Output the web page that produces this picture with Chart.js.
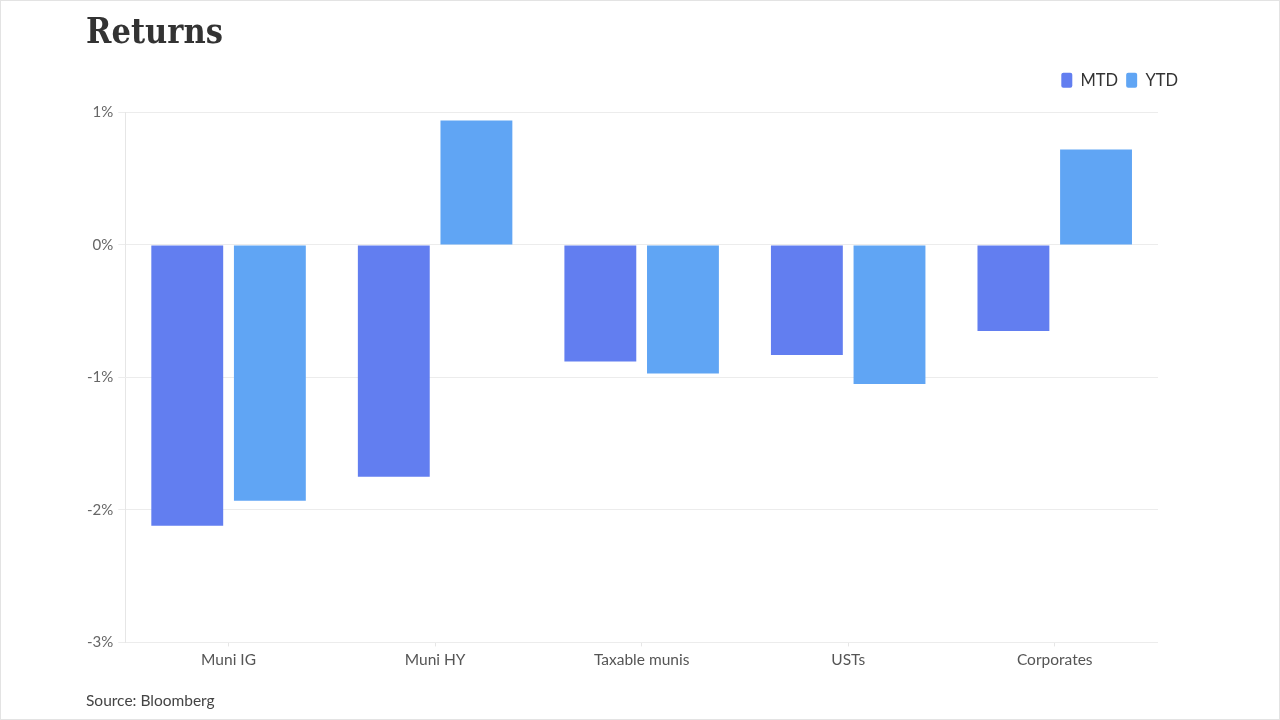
<!DOCTYPE html>
<html>
<head>
<meta charset="utf-8">
<script src="https://cdn.jsdelivr.net/npm/chart.js@4"></script>
<style>
  html, body { margin: 0; padding: 0; background: #fff; }
  #frame { position: relative; width: 1278px; height: 718px; border: 1px solid #e3e3e3; overflow: hidden; }
  #title { position: absolute; left: 85px; top: 11px; font-family: "DejaVu Serif", serif; font-weight: bold; font-size: 36px; line-height: 36px; color: #333; transform: scaleX(0.85); transform-origin: left top; white-space: nowrap; }
  #source { position: absolute; left: 85px; top: 690px; font-family: Lato, sans-serif; font-size: 15.5px; color: #444; }
  #wrap { position: absolute; left: 0; top: 0; width: 1278px; height: 718px; }
</style>
</head>
<body>
<div id="frame">
  <div id="wrap"><canvas id="c"></canvas></div>
  <div id="title">Returns</div>
  <div id="source">Source: Bloomberg</div>
</div>
<script>
const categories = ["Muni IG", "Muni HY", "Taxable munis", "USTs", "Corporates"];
const mtdValues = [-2.12, -1.75, -0.88, -0.83, -0.65];
const ytdValues = [-1.93, 0.94, -0.97, -1.05, 0.72];
const seriesNames = ["MTD", "YTD"];
const yTicks = [-3, -2, -1, 0, 1];

const legendShift = {
  id: 'legendShift',
  afterLayout(chart) {
    const lg = chart.legend;
    if (!lg) return;
    lg.left += 28; lg.right += 28;
    lg.top -= 14; lg.bottom -= 14;
  }
};

const ctx = document.getElementById('c');
new Chart(ctx, {
  type: 'bar',
  data: {
    labels: categories,
    datasets: [
      { label: seriesNames[0], data: mtdValues, backgroundColor: '#627ef0', categoryPercentage: 0.8, barPercentage: 0.87 },
      { label: seriesNames[1], data: ytdValues, backgroundColor: '#60a5f4', categoryPercentage: 0.8, barPercentage: 0.87 }
    ]
  },
  plugins: [legendShift],
  options: {
    responsive: true,
    maintainAspectRatio: false,
    animation: false,
    devicePixelRatio: 1,
    layout: { padding: { left: 81, right: 121, top: 77, bottom: 46 } },
    plugins: {
      legend: {
        position: 'top',
        align: 'end',
        labels: {
          font: { family: 'Lato', size: 16.5 },
          color: '#333',
          boxWidth: 11,
          boxHeight: 15,
          useBorderRadius: true,
          borderRadius: 2,
          padding: 8
        }
      },
      tooltip: { enabled: false }
    },
    scales: {
      x: {
        grid: { display: true, drawOnChartArea: false, offset: false, color: '#e6e6e6', tickLength: 4 },
        border: { display: false },
        ticks: { font: { family: 'Lato', size: 15.5 }, color: '#555', padding: 4 }
      },
      y: {
        min: yTicks[0],
        max: yTicks[yTicks.length - 1],
        afterBuildTicks: (scale) => { scale.ticks = yTicks.map(v => ({ value: v })); },
        grid: { color: '#ececec', tickLength: 7 },
        border: { color: '#e6e6e6' },
        ticks: { font: { family: 'Lato', size: 15 }, color: '#666', padding: 5, callback: (v) => v + '%' }
      }
    }
  }
});
</script>
</body>
</html>
